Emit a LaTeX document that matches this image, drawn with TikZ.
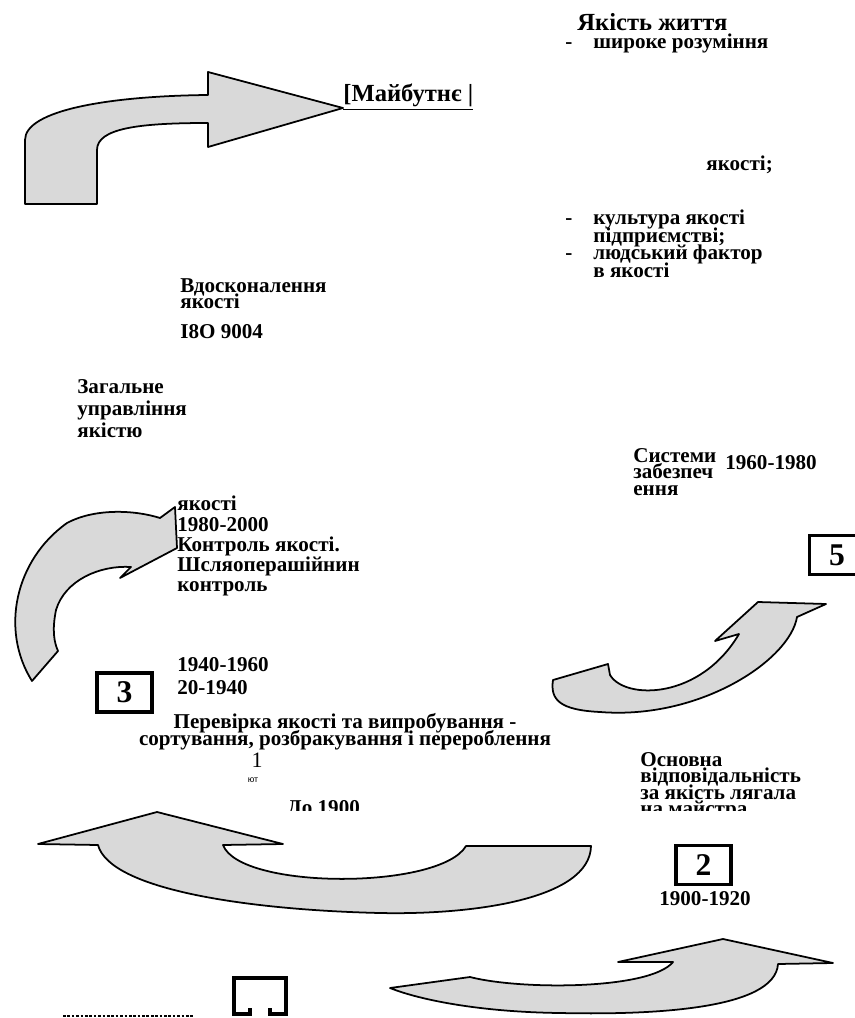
\documentclass[tikz,border=0pt]{standalone}
\usepackage{fontspec}
\setmainfont{Liberation Serif}
\setsansfont{Liberation Sans}
\usepackage{tikz}
\usetikzlibrary{calc}

\newcommand{\dsh}{\makebox[0.56cm][l]{-}}
\newcommand{\nodsh}{\hspace*{0.56cm}}
\lineskiplimit=-100pt

\begin{document}
\begin{tikzpicture}[
    bigarrow/.style={draw=black, line width=1pt, fill=gray!30, line join=round},
    lbl/.style={inner sep=0pt, align=left, font=\bfseries\fontsize{12}{#1}\selectfont},
    lbl/.default=11,
    head/.style={inner sep=0pt, font=\bfseries\fontsize{14}{14}\selectfont},
    numbox/.style={draw=black, line width=2pt, minimum width=1.1cm, minimum height=0.78cm, inner sep=0pt, font=\bfseries\fontsize{18}{18}\selectfont}
]
\useasboundingbox (0,0) rectangle (17.08,-20.36);

% --- Curved arrows ---
% towards the future
\draw[bigarrow] (0.50,-4.08) -- (0.50,-2.80) .. controls (0.50,-2.20) and (2.20,-1.92) .. (4.16,-1.90)
    -- (4.16,-1.44) -- (6.86,-2.16) -- (4.16,-2.94) -- (4.16,-2.46)
    .. controls (2.80,-2.46) and (1.94,-2.56) .. (1.94,-3.00) -- (1.94,-4.08) -- cycle;

% left, bending up to the right
\draw[bigarrow] (0.64,-13.62) .. controls (0.00,-12.60) and (0.30,-11.20) .. (1.34,-10.46)
    .. controls (1.90,-10.16) and (2.70,-10.20) .. (3.20,-10.36)
    -- (3.50,-10.14) -- (3.54,-10.96) -- (2.40,-11.56) -- (2.62,-11.34)
    .. controls (2.00,-11.30) and (1.30,-11.60) .. (1.12,-12.20)
    .. controls (1.04,-12.60) and (1.08,-12.84) .. (1.16,-13.02) -- cycle;

% right, under box 5
\draw[bigarrow] (11.06,-13.60) -- (12.16,-13.28) -- (12.20,-13.50)
    .. controls (12.50,-14.00) and (14.00,-14.00) .. (14.78,-12.68)
    -- (14.30,-12.82) -- (15.16,-12.04) -- (16.52,-12.08) -- (15.94,-12.34)
    .. controls (15.80,-13.20) and (14.00,-14.40) .. (12.00,-14.24)
    .. controls (11.20,-14.20) and (11.00,-14.00) .. (11.06,-13.60) -- cycle;

% bottom, pointing left
\draw[bigarrow] (0.76,-16.88) -- (3.14,-16.24) -- (5.66,-16.88) -- (4.46,-16.90)
    .. controls (4.80,-17.80) and (8.80,-17.80) .. (9.32,-16.92) -- (11.82,-16.92)
    .. controls (11.80,-18.00) and (9.40,-18.30) .. (7.60,-18.26)
    .. controls (5.00,-18.20) and (2.20,-17.80) .. (1.96,-16.90) -- cycle;

% bottom right, pointing right
\draw[bigarrow] (7.80,-19.76) -- (9.40,-19.54)
    .. controls (10.40,-19.80) and (13.00,-19.80) .. (13.46,-19.24)
    -- (12.36,-19.24) -- (14.46,-18.78) -- (16.66,-19.26) -- (15.56,-19.28)
    .. controls (15.50,-20.20) and (13.00,-20.30) .. (11.20,-20.26)
    .. controls (9.60,-20.24) and (8.40,-20.00) .. (7.80,-19.76) -- cycle;

% --- Texts, top ---
\node[head, anchor=west] (future) at (6.86,-1.94) {\underline{[Майбутнє |}};
\node[head, anchor=west] (life) at (11.54,-0.44) {Якість життя};
\node[lbl, anchor=west] (broad) at (11.30,-0.86) {\dsh широке розуміння};
\node[lbl, anchor=west] (qual) at (14.12,-3.30) {якості;};
\node[lbl=9.9, anchor=north west] (culture) at (11.30,-4.20) {\dsh культура якості\\\nodsh підприємстві;\\\dsh людський фактор\\\nodsh в якості};

% --- Texts, middle ---
\node[lbl=9.3, anchor=north west] (improve) at (3.60,-5.56) {Вдосконалення\\якості};
\node[lbl, anchor=west] (iso) at (3.60,-6.64) {I8O 9004};
\node[lbl=12.5, anchor=north west] (tqm) at (1.54,-7.58) {Загальне\\управління\\якістю};
\node[lbl=11.4, anchor=north west] (control) at (3.54,-9.92) {якості\\1980-2000\\Контроль якості.\\Шсляоперашійнин\\контроль};
\node[lbl=9.4, anchor=north west] (assure) at (12.66,-8.96) {Системи\\забезпеч\\ення};
\node[lbl, anchor=west] (y6080) at (14.50,-9.26) {1960-1980};
\node[lbl, anchor=west] (y4060) at (3.54,-13.30) {1940-1960};
\node[lbl, anchor=west] (y2040) at (3.54,-13.76) {20-1940};
\node[lbl=9.5, align=center, anchor=north] (inspect) at (6.90,-14.26) {Перевірка якості та випробування -\\сортування, розбракування і перероблення};
\node[inner sep=0pt, font=\fontsize{12.5}{12.5}\selectfont] (one) at (5.14,-15.20) {1};
\node[inner sep=0pt, font=\sffamily\fontsize{5}{5}\selectfont] (yut) at (5.06,-15.60) {ют};

% cut off at the bottom
\begin{scope}
    \clip (0,-14.90) rectangle (17.08,-16.20);
    \node[lbl, anchor=base west] (y1900) at (5.74,-16.28) {До 1900};
    \node[lbl=9.3, anchor=north west] (master) at (12.80,-15.04) {Основна\\відповідальність\\за якість лягала\\на майстра};
\end{scope}

% --- Numbered boxes ---
\node[numbox] (box5) at (16.74,-11.10) {5};
\node[numbox] (box3) at (2.49,-13.85) {3};
\node[numbox] (box2) at (14.07,-17.30) {2};
\node[lbl, anchor=west] (y0020) at (13.18,-17.98) {1900-1920};

% box 1, only partly printed
\draw[line width=2pt] (5.00,-20.16) -- (5.00,-20.28) -- (4.68,-20.28) -- (4.68,-19.56)
    -- (5.72,-19.56) -- (5.72,-20.28) -- (5.40,-20.28) -- (5.40,-20.16);
\draw[line width=1.5pt, dash pattern=on 1.5pt off 1pt] (1.26,-20.32) -- (3.86,-20.32);

\end{tikzpicture}
\end{document}
